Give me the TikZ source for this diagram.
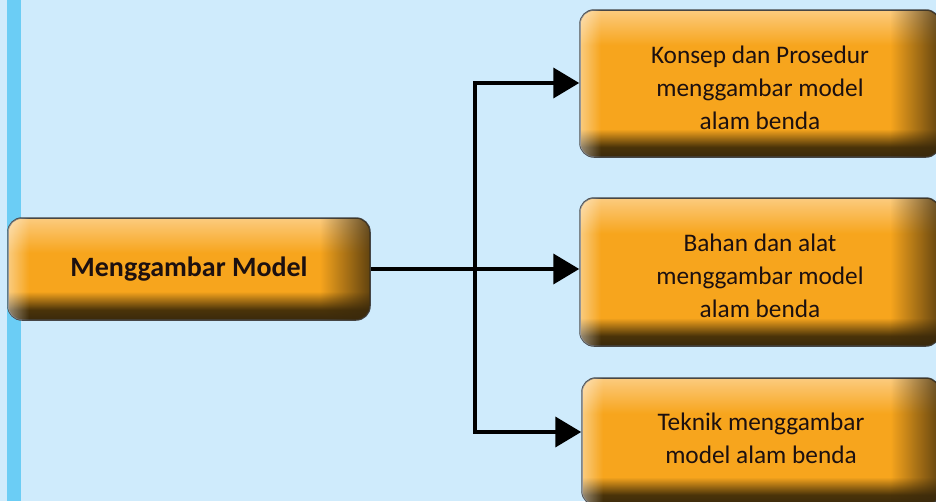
\documentclass[tikz,border=0pt]{standalone}
\usepackage{fontspec}
\setmainfont{Carlito}
\usetikzlibrary{arrows.meta,fadings}
\definecolor{bgc}{HTML}{CFEBFC}
\definecolor{barc}{HTML}{6BCDF5}
\definecolor{orgm}{HTML}{F7A51D}
\definecolor{lighto}{HTML}{FCCB7E}
\definecolor{darkb}{HTML}{3A290C}
\definecolor{darkb2}{HTML}{4A3309}
\definecolor{txtc}{HTML}{1C1010}
\definecolor{edgec}{HTML}{464646}
% left box, height 102
\pgfdeclareverticalshading{boxva}{100bp}{color(0bp)=(darkb); color(25bp)=(darkb); color(30bp)=(darkb2); color(39bp)=(orgm); color(58bp)=(orgm); color(75bp)=(lighto); color(100bp)=(lighto)}
% right boxes, height 147
\pgfdeclareverticalshading{boxvb}{100bp}{color(0bp)=(darkb); color(25bp)=(darkb); color(28.4bp)=(darkb2); color(34.5bp)=(orgm); color(63bp)=(orgm); color(75bp)=(lighto); color(100bp)=(lighto)}
% bottom box, height 127
\pgfdeclareverticalshading{boxvc}{100bp}{color(0bp)=(darkb); color(25bp)=(darkb); color(29bp)=(darkb2); color(36bp)=(orgm); color(61bp)=(orgm); color(75bp)=(lighto); color(100bp)=(lighto)}
\pgfdeclarehorizontalshading{rfsh}{100bp}{color(0bp)=(pgftransparent!100); color(68bp)=(pgftransparent!100); color(75bp)=(pgftransparent!20); color(100bp)=(pgftransparent!20)}
\pgfdeclarefading{rfade}{\pgfuseshading{rfsh}}
\pgfdeclarehorizontalshading{lfsh}{100bp}{color(0bp)=(pgftransparent!55); color(25bp)=(pgftransparent!55); color(28bp)=(pgftransparent!100); color(100bp)=(pgftransparent!100)}
\pgfdeclarefading{lfade}{\pgfuseshading{lfsh}}
\tikzset{
  box/.style={draw=edgec, line width=1.5pt, rounded corners=14pt, shading=#1,
    text=txtc, align=center, inner sep=0pt,
    postaction={fill=darkb, path fading=rfade},
    postaction={fill=white, path fading=lfade}},
  conn/.style={line width=4pt, black, line join=miter},
  arr/.style={conn, -{Triangle[length=26pt,width=30pt]}},
  rtext/.style={font=\fontsize{25.3}{33}\selectfont, text=txtc, align=center, inner sep=0pt},
}
\begin{document}
\begin{tikzpicture}[x=1pt,y=-1pt]
\useasboundingbox (0,0) rectangle (936,501);
\fill[bgc] (0,0) rectangle (936,501);
\fill[barc] (7,0) rectangle (21,501);
\node[box=boxva, minimum width=362pt, minimum height=102pt, font=\fontsize{28}{32}\bfseries\selectfont] (m) at (189,269) {Menggambar Model};
\node[box=boxvb, minimum width=360pt, minimum height=147pt,
  label={[rtext, yshift=-4.5pt]center:{Konsep dan Prosedur\\menggambar model\\alam benda}}] (b1) at (760,83.5) {};
\node[box=boxvb, minimum width=360pt, minimum height=148pt,
  label={[rtext, yshift=-4pt]center:{Bahan dan alat\\menggambar model\\alam benda}}] (b2) at (760,272) {};
\node[box=boxvc, minimum width=358pt, minimum height=127pt,
  label={[rtext, yshift=3.5pt]center:{Teknik menggambar\\model alam benda}}] (b3) at (761,441.5) {};
\coordinate (j1) at (475,83);
\coordinate (j3) at (475,432);
\draw[arr] (m.east) -- (m.east -| b2.west);
\draw[arr] (j3) -- (j1) -- (j1 -| b1.west);
\draw[arr] (j1) -- (j3) -- (j3 -| b3.west);
\end{tikzpicture}
\end{document}
